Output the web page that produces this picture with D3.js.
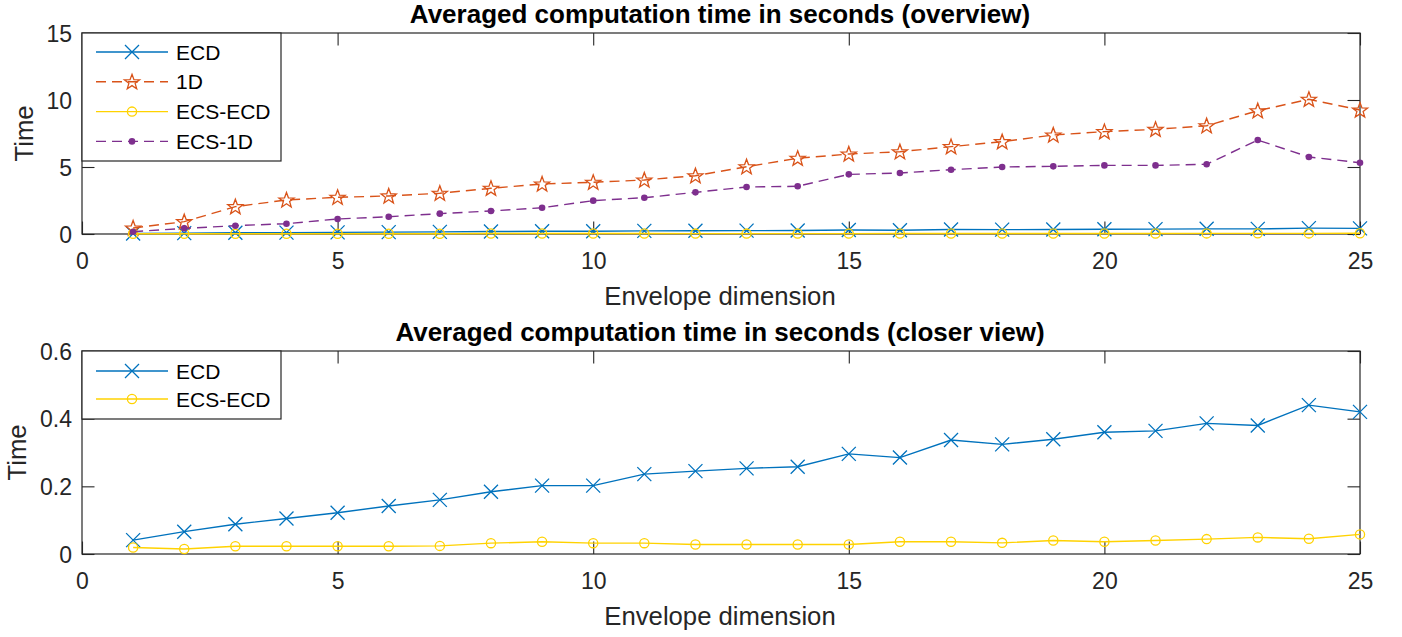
<!DOCTYPE html>
<html>
<head>
<meta charset="utf-8">
<script src="https://cdn.jsdelivr.net/npm/d3@7"></script>
<style>
  html, body { margin: 0; padding: 0; background: #fff; }
  svg { display: block; font-family: "Liberation Sans", Arial, Helvetica, sans-serif; }
</style>
</head>
<body>
<svg id="chart" width="1402" height="637"></svg>
<script>
// ---- Data ----
const dims = [1,2,3,4,5,6,7,8,9,10,11,12,13,14,15,16,17,18,19,20,21,22,23,24,25];
const ecd = [0.041,0.066,0.088,0.105,0.122,0.142,0.160,0.184,0.202,0.202,0.236,0.245,0.253,0.258,0.296,0.285,0.337,0.324,0.339,0.360,0.364,0.386,0.380,0.440,0.420];
const oneD = [0.45,0.92,2.04,2.54,2.74,2.84,3.04,3.41,3.73,3.86,4.03,4.35,5.02,5.65,5.97,6.14,6.52,6.89,7.39,7.64,7.81,8.08,9.20,10.05,9.25];
const ecsEcd = [0.019,0.015,0.023,0.023,0.023,0.023,0.024,0.032,0.036,0.032,0.032,0.028,0.028,0.028,0.028,0.036,0.036,0.033,0.040,0.036,0.040,0.044,0.049,0.045,0.058];
const ecs1D = [0.17,0.42,0.62,0.77,1.12,1.29,1.52,1.72,1.96,2.49,2.71,3.11,3.51,3.56,4.45,4.55,4.80,5.00,5.05,5.12,5.12,5.20,7.01,5.75,5.32];

const xTicks = [0,5,10,15,20,25];
const yTicksTop = [0,5,10,15];
const yTicksBottom = [0,0.2,0.4,0.6];
const seriesNames = ["ECD","1D","ECS-ECD","ECS-1D"];
const titles = ["Averaged computation time in seconds (overview)", "Averaged computation time in seconds (closer view)"];
const xLabel = "Envelope dimension";
const yLabel = "Time";

// ---- Styles ----
const styles = {
  "ECD":     {color:"#0072BD", dash:null,   marker:"x"},
  "1D":      {color:"#D95319", dash:"10,6", marker:"star"},
  "ECS-ECD": {color:"#FFD200", dash:null,   marker:"o"},
  "ECS-1D":  {color:"#7E2F8E", dash:"10,6", marker:"dot"}
};
const dataByName = {"ECD":ecd, "1D":oneD, "ECS-ECD":ecsEcd, "ECS-1D":ecs1D};

const svg = d3.select("#chart");
const axisColor = "#262626";

function starPath(R, r) {
  let p = [];
  for (let i = 0; i < 10; i++) {
    const a = -Math.PI/2 + i*Math.PI/5;
    const rad = i % 2 === 0 ? R : r;
    p.push([rad*Math.cos(a), rad*Math.sin(a)]);
  }
  return "M" + p.map(d => d[0].toFixed(2)+","+d[1].toFixed(2)).join("L") + "Z";
}

function drawMarker(g, type, color, cx, cy) {
  if (type === "x") {
    const s = 7;
    g.append("path").attr("d", `M${cx-s},${cy-s}L${cx+s},${cy+s}M${cx-s},${cy+s}L${cx+s},${cy-s}`)
      .attr("stroke", color).attr("stroke-width", 1.3).attr("fill","none");
  } else if (type === "star") {
    g.append("path").attr("d", starPath(8, 3.3)).attr("transform", `translate(${cx},${cy+0.5})`)
      .attr("stroke", color).attr("stroke-width", 1.3).attr("fill","none");
  } else if (type === "o") {
    g.append("circle").attr("cx", cx).attr("cy", cy).attr("r", 4.6)
      .attr("stroke", color).attr("stroke-width", 1.3).attr("fill","none");
  } else if (type === "dot") {
    g.append("circle").attr("cx", cx).attr("cy", cy).attr("r", 3.3)
      .attr("fill", color).attr("stroke", "none");
  }
}

function panel(cfg) {
  const {left, right, top, bottom, yMax, yTicks, names, title, legendH, legendStep, legendFirst, yFmt} = cfg;
  const x = d3.scaleLinear().domain([0,25]).range([left, right]);
  const y = d3.scaleLinear().domain([0,yMax]).range([bottom, top]);
  const g = svg.append("g");

  // axes box
  g.append("rect").attr("x", left).attr("y", top).attr("width", right-left).attr("height", bottom-top)
    .attr("fill","none").attr("stroke", axisColor).attr("stroke-width", 1.2);

  const tl = 12.5;
  const xb = d3.axisBottom(x).tickValues(xTicks).tickSize(-tl).tickPadding(22).tickFormat(d3.format("d"));
  const gxb = g.append("g").attr("transform", `translate(0,${bottom})`).call(xb);
  const xt = d3.axisTop(x).tickValues(xTicks).tickSize(-tl).tickFormat("");
  const gxt = g.append("g").attr("transform", `translate(0,${top})`).call(xt);
  const yl = d3.axisLeft(y).tickValues(yTicks).tickSize(-tl).tickPadding(22).tickFormat(yFmt);
  const gyl = g.append("g").attr("transform", `translate(${left},0)`).call(yl);
  const yr = d3.axisRight(y).tickValues(yTicks).tickSize(-tl).tickFormat("");
  const gyr = g.append("g").attr("transform", `translate(${right},0)`).call(yr);
  [gxb,gxt,gyl,gyr].forEach(a => {
    a.select(".domain").remove();
    a.selectAll(".tick line").attr("stroke", axisColor).attr("stroke-width", 1.1);
    a.selectAll(".tick text").attr("fill", axisColor).attr("font-size", 23)
      .attr("font-family", '"Liberation Sans", Arial, sans-serif');
  });
  gxb.selectAll(".tick text").attr("dy", "0.71em").attr("y", 19);
  gyl.selectAll(".tick text").attr("x", -10).attr("dy", "0.35em");

  // series
  names.forEach(n => {
    const st = styles[n];
    const vals = dataByName[n];
    const pts = dims.map((d,i) => [x(d), y(vals[i])]);
    const line = d3.line();
    g.append("path").attr("d", line(pts)).attr("fill","none")
      .attr("stroke", st.color).attr("stroke-width", 1.4)
      .attr("stroke-dasharray", st.dash);
    const mg = g.append("g");
    pts.forEach(p => drawMarker(mg, st.marker, st.color, p[0], p[1]));
  });

  // title
  g.append("text").attr("x", (left+right)/2 - 1).attr("y", top - 10)
    .attr("text-anchor","middle").attr("font-weight","bold").attr("font-size", 26)
    .attr("fill", "#000").text(title);
  // x label
  g.append("text").attr("x", (left+right)/2 - 1).attr("y", bottom + 71)
    .attr("text-anchor","middle").attr("font-size", 25.7).attr("fill", axisColor).text(xLabel);
  // y label
  g.append("text").attr("transform", `translate(${cfg.yLabelX},${(top+bottom)/2}) rotate(-90)`)
    .attr("text-anchor","middle").attr("font-size", 25.7).attr("fill", axisColor).text(yLabel);

  // legend
  const lg = g.append("g");
  lg.append("rect").attr("x", left).attr("y", top).attr("width", 199).attr("height", legendH)
    .attr("fill","#fff").attr("stroke", axisColor).attr("stroke-width", 1.2);
  names.forEach((n,i) => {
    const st = styles[n];
    const cy = top + legendFirst + i*legendStep;
    lg.append("line").attr("x1", left+14).attr("x2", left+86).attr("y1", cy).attr("y2", cy)
      .attr("stroke", st.color).attr("stroke-width", 1.4).attr("stroke-dasharray", st.dash);
    drawMarker(lg, st.marker, st.color, left+50, cy);
    lg.append("text").attr("x", left+94).attr("y", cy).attr("dy","0.36em")
      .attr("font-size", 21).attr("fill","#000").text(n);
  });
}

panel({left:82, right:1360, top:33, bottom:234, yMax:15, yTicks:yTicksTop,
  names:["ECD","1D","ECS-ECD","ECS-1D"], title:titles[0], legendH:128, legendStep:29.8, legendFirst:19,
  yFmt:d3.format("d"), yLabelX:33});
panel({left:82, right:1360, top:351, bottom:554, yMax:0.6, yTicks:yTicksBottom,
  names:["ECD","ECS-ECD"], title:titles[1], legendH:68, legendStep:28, legendFirst:20,
  yFmt:d => d === 0 ? "0" : d3.format(".1f")(d), yLabelX:26});
</script>
</body>
</html>
